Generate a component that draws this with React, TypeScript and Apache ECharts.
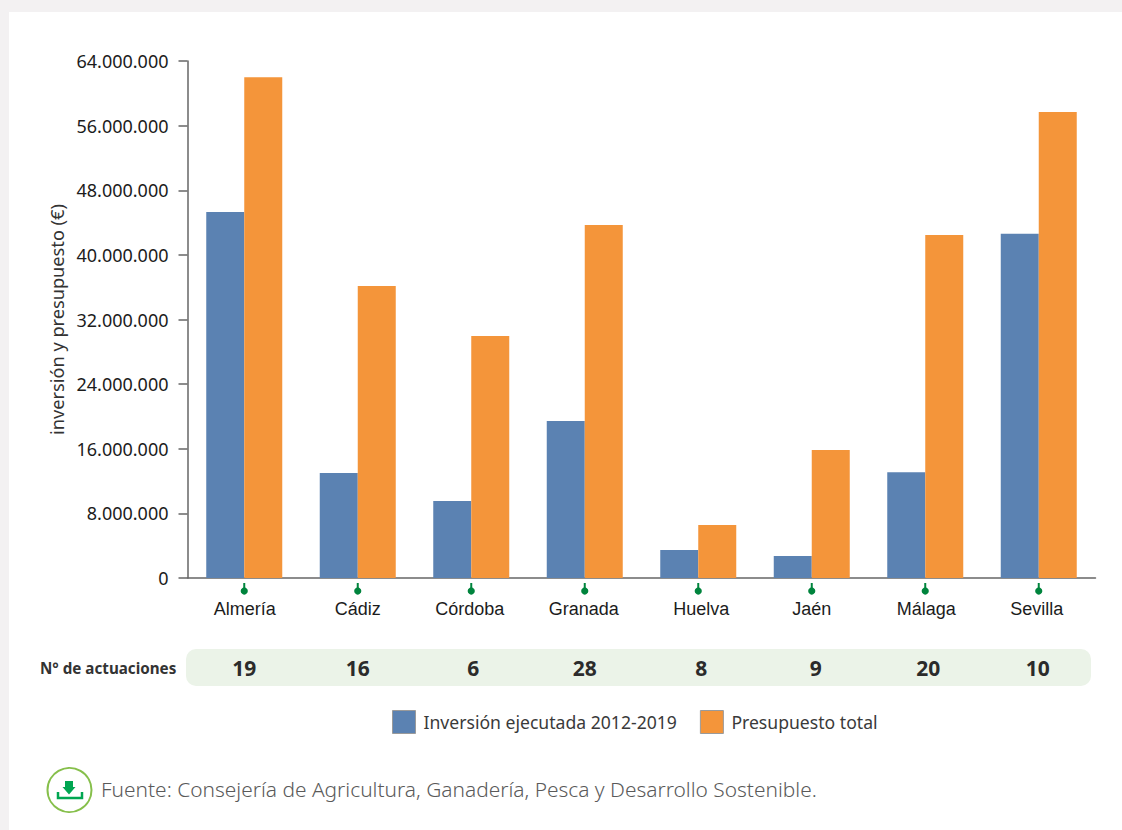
import React, { useEffect, useRef } from "react";
import * as echarts from "echarts";

const provincias = ["Almería", "Cádiz", "Córdoba", "Granada", "Huelva", "Jaén", "Málaga", "Sevilla"];
const inversionEjecutada = [45300000, 13000000, 9530000, 19440000, 3470000, 2720000, 13100000, 42600000];
const presupuestoTotal = [62000000, 36150000, 29960000, 43700000, 6560000, 15850000, 42460000, 57700000];
const actuaciones = [19, 16, 6, 28, 8, 9, 20, 10];
// Horizontal nudge of each count relative to its category centre.
const desplazamientoConteo = [0, 0, 2, 0, 3, 4, 3, -1];
// Label nudges for the province names: [horizontal, vertical].
const desplazamientoEtiqueta = [[0.5, 0], [0, 0], [-1.5, 0], [-1, 0], [3, 0], [0, 0], [1, -2], [-2, 0]];
const SERIE_INVERSION = "Inversión ejecutada 2012-2019";
const SERIE_PRESUPUESTO = "Presupuesto total";
const FUENTE = "Fuente: Consejería de Agricultura, Ganadería, Pesca y Desarrollo Sostenible.";

const AZUL = "#5b82b2";
const NARANJA = "#f4953a";
const GRIS_EJE = "#666666";
const VERDE = "#00843d";
const FUENTE_TEXTO = '"Noto Sans", sans-serif';
const FUENTE_CATEGORIA = '"Liberation Sans", sans-serif';

const miles = (v: number) => String(v).replace(/\B(?=(\d{3})+$)/g, ".");

// One rich style per province, so each name can sit slightly off its category centre.
const estilosCategoria = Object.fromEntries(
  desplazamientoEtiqueta.map(([dx, dy], i) => [
    `p${i}`,
    {
      fontSize: 18,
      color: "#1c1c1c",
      fontFamily: FUENTE_CATEGORIA,
      padding: [Math.max(dy, 0) * 2, Math.max(-dx, 0) * 2, Math.max(-dy, 0) * 2, Math.max(dx, 0) * 2],
    },
  ]),
);

export default function App() {
  const ref = useRef<HTMLDivElement>(null);
  useEffect(() => {
    const chart = echarts.init(ref.current!, undefined, { renderer: "svg" });
    chart.setOption({
      animation: false,
      backgroundColor: "#f3f1f2",
      textStyle: { fontFamily: FUENTE_TEXTO },
      grid: { left: 187.5, top: 61, width: 908, height: 517 },
      legend: {
        left: 392,
        top: 710,
        padding: 0,
        itemWidth: 23,
        itemHeight: 23,
        itemGap: 23,
        data: [SERIE_INVERSION, SERIE_PRESUPUESTO],
        icon: "rect",
        itemStyle: { borderColor: "#9a9a9a", borderWidth: 1 },
        textStyle: { fontSize: 17.6, color: "#3a3a3a", fontFamily: FUENTE_TEXTO, padding: [0, 0, 0, 3] },
      },
      xAxis: {
        type: "category",
        data: provincias,
        axisLine: { lineStyle: { color: GRIS_EJE, width: 1.5 } },
        axisTick: { show: false },
        axisLabel: {
          margin: 22,
          formatter: (v: string) => `{p${provincias.indexOf(v)}|${v}}`,
          rich: estilosCategoria,
        },
      },
      yAxis: {
        type: "value",
        min: 0,
        max: 64000000,
        interval: 8000000,
        name: "inversión y presupuesto (€)",
        nameLocation: "middle",
        nameGap: 121,
        nameRotate: 90,
        nameTextStyle: { fontSize: 18.2, color: "#333333" },
        splitLine: { show: false },
        axisLine: { show: true, onZero: false, lineStyle: { color: GRIS_EJE, width: 1.5 } },
        axisTick: { show: true, length: 9, lineStyle: { color: GRIS_EJE, width: 1.5 } },
        axisLabel: { margin: 19, fontSize: 18, color: "#1c1c1c", formatter: (v: number) => miles(v) },
      },
      graphic: [
        { type: "rect", z: -10, shape: { x: 9, y: 12, width: 1113, height: 818 }, style: { fill: "#ffffff" } },
        { type: "rect", z: -9, shape: { x: 186, y: 649, width: 905, height: 37, r: 10 }, style: { fill: "#ebf3e8" } },
        {
          type: "text",
          x: 40,
          y: 668,
          style: {
            text: "N° de actuaciones",
            fontSize: 15.2,
            fontWeight: 700,
            fontFamily: FUENTE_TEXTO,
            fill: "#333333",
            verticalAlign: "middle",
          },
        },
        { type: "circle", shape: { cx: 69.5, cy: 790, r: 22 }, style: { fill: "#ffffff", stroke: "#86bf4b", lineWidth: 2 } },
        { type: "polygon", shape: { points: [[65, 781], [73, 781], [73, 787], [75.5, 787], [69, 794.5], [62.5, 787], [65, 787]] }, style: { fill: "#00a651" } },
        { type: "polyline", shape: { points: [[58, 792], [58, 798], [82, 798], [82, 792]] }, style: { fill: "none", stroke: "#00a651", lineWidth: 2.5 } },
        {
          type: "text",
          x: 101,
          y: 789,
          style: {
            text: FUENTE,
            fontSize: 20.9,
            fontWeight: 300,
            fontFamily: FUENTE_TEXTO,
            fill: "#5a5a5a",
            verticalAlign: "middle",
          },
        },
      ],
      series: [
        { name: SERIE_INVERSION, type: "bar", data: inversionEjecutada, barWidth: 38, barGap: 0, itemStyle: { color: AZUL } },
        { name: SERIE_PRESUPUESTO, type: "bar", data: presupuestoTotal, barWidth: 38, barGap: 0, itemStyle: { color: NARANJA } },
        {
          // Green marker below each category and its count in the band underneath.
          type: "custom",
          silent: true,
          data: provincias.map((_, i) => i),
          encode: { x: 0 },
          renderItem: (_params: any, api: any) => {
            const i = api.value(0);
            const [cx, y0] = api.coord([i, 0]);
            return {
              type: "group",
              children: [
                { type: "line", shape: { x1: cx, y1: y0 + 5, x2: cx, y2: y0 + 12 }, style: { stroke: VERDE, lineWidth: 2 } },
                { type: "circle", shape: { cx, cy: y0 + 13, r: 3.6 }, style: { fill: VERDE } },
                {
                  type: "text",
                  x: cx + desplazamientoConteo[i],
                  y: y0 + 90,
                  style: {
                    text: String(actuaciones[i]),
                    fontSize: 21,
                    fontWeight: 700,
                    fontFamily: FUENTE_TEXTO,
                    fill: "#2b2b2b",
                    align: "center",
                    verticalAlign: "middle",
                  },
                },
              ],
            };
          },
        },
      ],
    });
    return () => chart.dispose();
  }, []);
  return <div ref={ref} style={{ position: "fixed", left: 0, top: 0, width: 1122, height: 830 }} />;
}
